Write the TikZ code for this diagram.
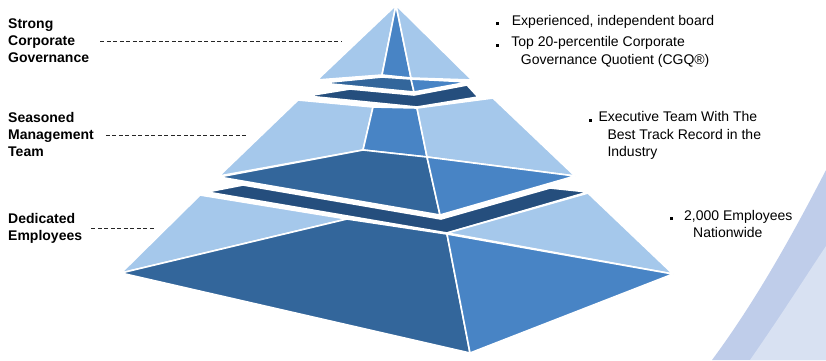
\documentclass[tikz,border=0pt]{standalone}
\usepackage{fontspec}
\setmainfont{Liberation Sans}
\usetikzlibrary{positioning}

\definecolor{pyrlight}{HTML}{A5C8EB}
\definecolor{pyrmid}{HTML}{4884C5}
\definecolor{pyrdark}{HTML}{33669B}
\definecolor{pyrslab}{HTML}{254E7D}
\definecolor{swoosh}{HTML}{BFCDEA}
\definecolor{swooshlight}{HTML}{D8E1F2}

% small square bullet, gap after it given in pt
\newcommand{\sqbullet}[1]{\rule{3pt}{3pt}\hspace{#1pt}}

\begin{document}
\begin{tikzpicture}
    [x=1pt, y=-1pt, face/.style={draw=white, line width=1.6pt, line join=round},
    leader/.style={draw=black!85, line width=0.8pt, dash pattern=on 4pt off 2.5pt}]
    % Define styles for labels and bullet texts (placed at the baseline of the last line)
    \tikzstyle{label} = [font=\fontsize{14}{17}\selectfont\bfseries, align=left, inner sep=0pt, anchor=base west]
    \tikzstyle{item} = [font=\fontsize{14}{17.5}\selectfont, align=left, inner sep=0pt, anchor=base west]
    \useasboundingbox (0,0) rectangle (826,360);

    % Background swoosh in the corner
    \fill[swoosh] (712,360) .. controls (758,298) and (796,228) .. (826,170) -- (826,360) -- cycle;
    \fill[swooshlight] (750,360) .. controls (782,314) and (806,276) .. (826,246) -- (826,360) -- cycle;

    % Bottom tier
    \fill[pyrslab, face] (207,192) -- (243,185) -- (441,219) -- (550,188) -- (588,192) -- (447,233) -- cycle;
    \fill[pyrlight, face] (200,195) -- (121,273) -- (347,219) -- cycle;
    \fill[pyrdark, face] (121,273) -- (347,219) -- (447,234) -- (470,353) -- cycle;
    \fill[pyrlight, face] (447,233) -- (588,193) -- (673,274) -- cycle;
    \fill[pyrmid, face] (447,234) -- (673,274) -- (470,353) -- cycle;

    % Middle tier
    \fill[pyrslab, face] (307,96) -- (350,89) -- (414,95) -- (467,85) -- (478,97) -- (417,107) -- cycle;
    \fill[pyrlight, face] (298,100) -- (219,176) -- (363,150) -- (373,107) -- cycle;
    \fill[pyrmid, face] (373,107) -- (417,108) -- (427,157) -- (363,150) -- cycle;
    \fill[pyrdark, face] (219,177) -- (363,150) -- (427,157) -- (440,215) -- cycle;
    \fill[pyrlight, face] (417,108) -- (493,98) -- (575,176) -- (427,157) -- cycle;
    \fill[pyrmid, face] (427,157) -- (575,176) -- (440,215) -- cycle;

    % Top tier
    \fill[pyrlight, face] (396,5) -- (317,80) -- (382,75) -- cycle;
    \fill[pyrmid, face] (396,5) -- (382,75) -- (411,78) -- cycle;
    \fill[pyrdark, face] (321,83) -- (382,77) -- (411,79) -- (414,92) -- cycle;
    \fill[pyrlight, face] (396,5) -- (411,78) -- (472,80) -- cycle;
    \fill[pyrmid, face] (411,79) -- (469,82) -- (414,92) -- cycle;

    % Labels on the left
    \node [label] (govlabel) at (8,62) {Strong\\Corporate\\Governance};
    \node [label] (mgmtlabel) at (8,156) {Seasoned\\Management\\Team};
    \node [label] (emplabel) at (8,240) {Dedicated\\Employees};

    % Leader ends on the pyramid
    \coordinate (govend) at (342,41);
    \coordinate (mgmtend) at (247,135);
    \coordinate (empend) at (154,228);

    \draw[leader] (govlabel.east |- govend) ++(11,0) -- (govend);
    \draw[leader] (mgmtlabel.east |- mgmtend) ++(12,0) -- (mgmtend);
    \draw[leader] (emplabel.east |- empend) ++(9,0) -- (empend);

    % Bullet texts on the right
    \node [item] (boardtext) at (495.7,25) {\sqbullet{13}Experienced, independent board};
    \node [item] (cgqtext) at (495.7,64) {\sqbullet{12.5}Top 20-percentile Corporate\\\hspace*{25pt}Governance Quotient (CGQ\textregistered)};
    \node [item] (exectext) at (588.3,156.5) {\sqbullet{7}Executive Team With The\\\hspace*{19pt}Best Track Record in the\\\hspace*{19pt}Industry};
    \node [item] (stafftext) at (670,237.5) {\sqbullet{11}2,000 Employees\\\hspace*{23pt}Nationwide};
\end{tikzpicture}
\end{document}
